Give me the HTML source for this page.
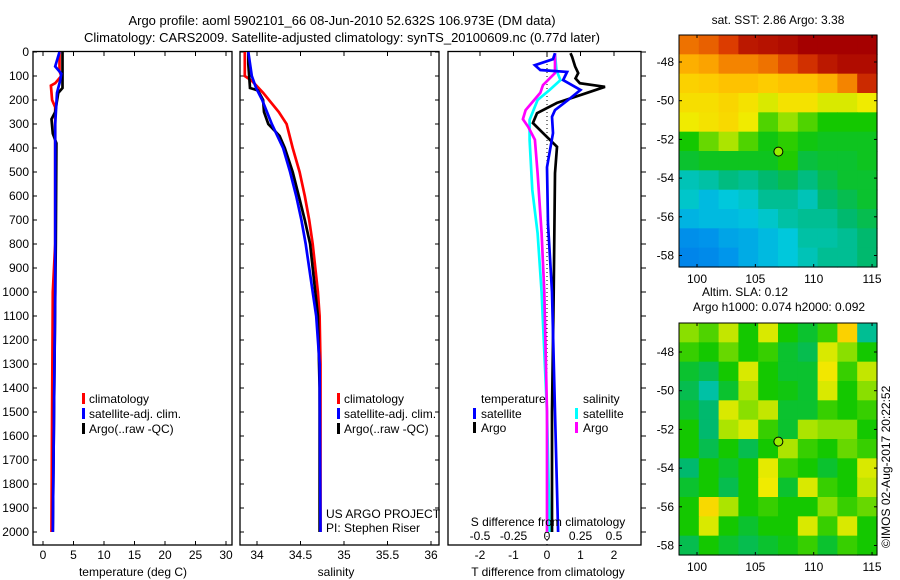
<!DOCTYPE html>
<html><head><meta charset="utf-8">
<style>
html,body{margin:0;padding:0;background:#fff;}
svg{display:block;font-family:"Liberation Sans",sans-serif;}
text{font-size:12px;fill:#000;}
</style></head>
<body>
<svg id="fig" width="900" height="580" viewBox="0 0 900 580">
<rect x="0" y="0" width="900" height="580" fill="#fff"/>
<text x="342" y="25" text-anchor="middle" style="font-size:13px">Argo profile: aoml 5902101_66 08-Jun-2010 52.632S 106.973E (DM data)</text>
<text x="342" y="42" text-anchor="middle" style="font-size:13px">Climatology: CARS2009. Satellite-adjusted climatology: synTS_20100609.nc (0.77d later)</text>
<g id="g1"></g>
<g id="g2"></g>
<g id="g3"></g>
<g id="m1"></g>
<g id="m2"></g>
<text x="0" y="0" transform="translate(890,548) rotate(-90)">©IMOS 02-Aug-2017 20:22:52</text>
</svg>
<script>
// ---------- data ----------
const depthTicks = [0,100,200,300,400,500,600,700,800,900,1000,1100,1200,1300,1400,1500,1600,1700,1800,1900,2000];
const tempTicks = [0,5,10,15,20,25,30];
const salTicks = [34,34.5,35,35.5,36];
const salTickLabels = ["34","34.5","35","35.5","36"];
const tdiffTicks = [-2,-1,0,1,2];
const sdiffTicks = [-0.5,-0.25,0,0.25,0.5];
const sdiffLabels = ["-0.5","-0.25","0","0.25","0.5"];

const tClimD = [0,80,100,130,140,200,230,800,1000,1500,2000];
const tClimV = [2.7,2.7,3.0,2.0,1.3,1.5,2.0,2.0,1.6,1.5,1.4];
const tSatD = [0,60,90,120,170,300,1000,1500,2000];
const tSatV = [2.7,2.0,3.0,2.8,2.3,2.0,2.0,1.8,1.6];
const tArgoD = [0,20,150,170,250,280,340,380,800,1500,2000];
const tArgoV = [3.2,3.2,3.2,2.5,2.0,1.4,1.6,2.2,2.1,1.8,1.6];

const sClimD = [0,100,120,170,250,300,400,500,600,700,800,1000,1100,1300,2000];
const sClimV = [33.86,33.86,33.94,34.07,34.25,34.34,34.41,34.49,34.55,34.6,34.64,34.7,34.72,34.73,34.73];
const sArgoD = [0,50,150,160,200,250,300,350,400,500,600,700,800,1000,1100,1400,2000];
const sArgoV = [33.9,33.9,33.92,34.01,34.07,34.08,34.13,34.26,34.32,34.41,34.48,34.55,34.61,34.67,34.7,34.72,34.72];
const sSatD = [0,100,150,200,300,400,500,600,700,800,1000,1100,1300,2000];
const sSatV = [33.9,33.94,33.99,34.06,34.17,34.3,34.38,34.45,34.51,34.56,34.64,34.68,34.72,34.73];

const dTArgoD = [5,20,60,88,110,130,145,170,212,255,296,338,395,505,1000,1500,2000];
const dTArgoV = [0.7,0.75,0.84,0.93,0.85,0.98,1.73,1.2,0.3,-0.3,-0.42,-0.12,0.3,0.24,0.2,0.15,0.15];
const dTSatD = [5,30,55,75,83,117,158,200,242,270,338,480,715,1000,1500,2000];
const dTSatV = [0.24,0.18,-0.36,-0.2,0.6,0.48,1.0,0.63,0.24,0.15,0.18,0.0,0.03,0.15,0.24,0.33];
const dSArgoD = [5,30,88,138,170,242,280,312,366,505,755,1000,1500,2000];
const dSArgoV = [0.06,0.06,0.06,-0.03,-0.05,-0.16,-0.18,-0.14,-0.09,-0.07,-0.04,-0.02,0.0,0.0];
const dSSatD = [5,75,117,158,200,283,366,575,755,1000,1500,2000];
const dSSatV = [0.06,0.07,0.1,0.02,-0.07,-0.13,-0.13,-0.11,-0.07,-0.04,0.0,0.02];

const lonTicks = [100,105,110,115];
const latTicks = [-48,-50,-52,-54,-56,-58];
const argoLon = 106.973, argoLat = -52.632;
const sstGrid = [
[0.84,0.86,0.90,0.96,0.97,0.98,1.00,1.00,1.00,1.00],
[0.76,0.78,0.82,0.82,0.84,0.88,0.92,0.96,0.98,0.98],
[0.70,0.71,0.73,0.73,0.71,0.73,0.73,0.76,0.82,0.93],
[0.67,0.67,0.69,0.66,0.62,0.66,0.66,0.62,0.62,0.64],
[0.64,0.66,0.68,0.64,0.50,0.56,0.50,0.45,0.45,0.45],
[0.45,0.52,0.58,0.50,0.44,0.47,0.44,0.43,0.43,0.43],
[0.42,0.43,0.43,0.43,0.43,0.46,0.41,0.42,0.42,0.43],
[0.34,0.35,0.37,0.36,0.38,0.40,0.37,0.40,0.42,0.42],
[0.33,0.30,0.32,0.33,0.36,0.36,0.34,0.38,0.40,0.42],
[0.29,0.30,0.30,0.31,0.33,0.35,0.36,0.36,0.38,0.40],
[0.22,0.24,0.27,0.28,0.30,0.32,0.35,0.35,0.36,0.38],
[0.18,0.20,0.25,0.28,0.30,0.32,0.34,0.36,0.36,0.38]];
const slaGrid = [
[0.55,0.50,0.60,0.45,0.62,0.45,0.42,0.48,0.70,0.36],
[0.48,0.45,0.52,0.45,0.48,0.42,0.40,0.62,0.55,0.45],
[0.42,0.40,0.45,0.62,0.45,0.42,0.42,0.65,0.48,0.60],
[0.40,0.35,0.42,0.58,0.45,0.44,0.42,0.62,0.45,0.55],
[0.42,0.38,0.62,0.55,0.60,0.42,0.42,0.48,0.45,0.48],
[0.45,0.38,0.58,0.62,0.48,0.42,0.58,0.55,0.55,0.45],
[0.45,0.40,0.45,0.40,0.45,0.58,0.48,0.45,0.52,0.48],
[0.38,0.45,0.42,0.45,0.63,0.48,0.45,0.42,0.45,0.62],
[0.42,0.45,0.40,0.45,0.64,0.42,0.62,0.48,0.45,0.60],
[0.45,0.68,0.58,0.45,0.48,0.45,0.45,0.55,0.48,0.52],
[0.45,0.62,0.45,0.42,0.45,0.45,0.62,0.48,0.62,0.45],
[0.40,0.45,0.42,0.40,0.42,0.44,0.48,0.42,0.48,0.45]];

// ---------- helpers ----------
const NS = "http://www.w3.org/2000/svg";
function mk(parent, tag, attrs, txt){
  const e = document.createElementNS(NS, tag);
  for (const k in attrs) e.setAttribute(k, attrs[k]);
  if (txt !== undefined) e.textContent = txt;
  parent.appendChild(e);
  return e;
}
const Y0 = 52, YS = 0.24, PB = 545;
function yD(d){ return Y0 + d*YS; }

function frame(g, x0, x1){
  const r = mk(g, "rect", {x:x0, y:Y0-0.5, width:x1-x0, height:PB-Y0+0.5, fill:"none", stroke:"#000", "stroke-width":1.3});
  
  
}
function line(g, ds, vs, fx, color, name){
  const pts = ds.map((d,i)=> fx(vs[i]).toFixed(1)+","+yD(d).toFixed(1)).join(" ");
  const p = mk(g, "polyline", {points:pts, fill:"none", stroke:color, "stroke-width":2.7, "stroke-linejoin":"miter"});
  
  
}
function txt(g, x, y, s, anchor, name, size){
  const t = mk(g, "text", {x:x, y:y, "text-anchor":anchor||"start"}, s);
  if (size) t.setAttribute("style","font-size:"+size+"px");
  
  
  return t;
}
function legBar(g, x, y, color){
  const r = mk(g, "rect", {x:x, y:y-10, width:3, height:11, fill:color});
  
  
}

// ---------- panel 1: temperature ----------
const g1 = document.getElementById("g1");
const xT = t => 43 + 6.1*t;
frame(g1, 33, 232);
depthTicks.forEach(d=>{
  mk(g1,"line",{x1:33,x2:37,y1:yD(d),y2:yD(d),stroke:"#000"});
  txt(g1, 29, yD(d)+4, String(d), "end", "depth-tick-label");
});
tempTicks.forEach(t=>{
  mk(g1,"line",{x1:xT(t),x2:xT(t),y1:Y0,y2:Y0+4,stroke:"#000"});
  mk(g1,"line",{x1:xT(t),x2:xT(t),y1:PB,y2:PB-4,stroke:"#000"});
  txt(g1, xT(t), 559, String(t), "middle", "temperature-tick-label");
});
txt(g1, 133, 576, "temperature (deg C)", "middle", "x-axis-title-temperature");
line(g1, tClimD, tClimV, xT, "#f00", "temperature-climatology-line");
line(g1, tArgoD, tArgoV, xT, "#000", "temperature-argo-line");
line(g1, tSatD, tSatV, xT, "#00f", "temperature-satellite-line");
[["climatology","#f00"],["satellite-adj. clim.","#00f"],["Argo(..raw -QC)","#000"]].forEach((l,i)=>{
  legBar(g1, 82, 403+i*15, l[1]);
  txt(g1, 89, 403+i*15, l[0], "start", "legend-entry");
});

// ---------- panel 2: salinity ----------
const g2 = document.getElementById("g2");
const xS = s => 257 + 87*(s-34);
frame(g2, 240, 439);
depthTicks.forEach(d=>{
  mk(g2,"line",{x1:240,x2:244,y1:yD(d),y2:yD(d),stroke:"#000"});
  mk(g2,"line",{x1:439,x2:435,y1:yD(d),y2:yD(d),stroke:"#000"});
});
salTicks.forEach((s,i)=>{
  mk(g2,"line",{x1:xS(s),x2:xS(s),y1:Y0,y2:Y0+4,stroke:"#000"});
  mk(g2,"line",{x1:xS(s),x2:xS(s),y1:PB,y2:PB-4,stroke:"#000"});
  txt(g2, xS(s), 559, salTickLabels[i], "middle", "salinity-tick-label");
});
txt(g2, 336, 576, "salinity", "middle", "x-axis-title-salinity");
line(g2, sClimD, sClimV, xS, "#f00", "salinity-climatology-line");
line(g2, sArgoD, sArgoV, xS, "#000", "salinity-argo-line");
line(g2, sSatD, sSatV, xS, "#00f", "salinity-satellite-line");
[["climatology","#f00"],["satellite-adj. clim.","#00f"],["Argo(..raw -QC)","#000"]].forEach((l,i)=>{
  legBar(g2, 337, 403+i*15, l[1]);
  txt(g2, 344, 403+i*15, l[0], "start", "legend-entry");
});
txt(g2, 326, 518, "US ARGO PROJECT", "start", "project-label");
txt(g2, 326, 532, "PI: Stephen Riser", "start", "pi-label");

// ---------- panel 3: differences ----------
const g3 = document.getElementById("g3");
const xdT = v => 547 + 33.5*v;
const xdS = v => 547 + 134*v;
frame(g3, 448, 641);
depthTicks.forEach(d=>{
  mk(g3,"line",{x1:641,x2:646,y1:yD(d),y2:yD(d),stroke:"#000"});
});
tdiffTicks.forEach(t=>{
  mk(g3,"line",{x1:xdT(t),x2:xdT(t),y1:Y0,y2:Y0+4,stroke:"#000"});
  txt(g3, xdT(t), 559, String(t), "middle", "t-diff-tick-label");
});
sdiffTicks.forEach((s,i)=>{
  txt(g3, xdS(s), 540, sdiffLabels[i], "middle", "s-diff-tick-label");
});
const zl = mk(g3,"line",{x1:xdT(0),x2:xdT(0),y1:Y0,y2:PB,stroke:"#000","stroke-dasharray":"1,3"});


line(g3, dSSatD, dSSatV, xdS, "#0ff", "s-diff-satellite-line");
line(g3, dSArgoD, dSArgoV, xdS, "#f0f", "s-diff-argo-line");
line(g3, dTArgoD, dTArgoV, xdT, "#000", "t-diff-argo-line");
line(g3, dTSatD, dTSatV, xdT, "#00f", "t-diff-satellite-line");
txt(g3, 481, 403, "temperature", "start", "legend-title-temperature");
txt(g3, 583, 403, "salinity", "start", "legend-title-salinity");
legBar(g3, 473, 418, "#00f"); txt(g3, 481, 418, "satellite", "start", "legend-entry");
legBar(g3, 473, 432, "#000"); txt(g3, 481, 432, "Argo", "start", "legend-entry");
legBar(g3, 575, 418, "#0ff"); txt(g3, 583, 418, "satellite", "start", "legend-entry");
legBar(g3, 575, 432, "#f0f"); txt(g3, 583, 432, "Argo", "start", "legend-entry");
txt(g3, 548, 526, "S difference from climatology", "middle", "s-diff-axis-title");
txt(g3, 548, 576, "T difference from climatology", "middle", "x-axis-title-t-diff");

// ---------- maps ----------
const stops = [[0.0,[0,90,230]],[0.25,[0,150,235]],[0.32,[0,200,220]],[0.38,[0,185,110]],[0.45,[20,200,0]],[0.56,[150,225,0]],[0.64,[240,235,0]],[0.72,[255,200,0]],[0.8,[250,150,0]],[0.9,[220,60,0]],[1.0,[165,0,0]]];
function cmap(v){
  for (let i=1;i<stops.length;i++){
    if (v<=stops[i][0]){
      const a=stops[i-1], b=stops[i], f=(v-a[0])/(b[0]-a[0]);
      return "rgb("+a[1].map((c,k)=>Math.round(c+(b[1][k]-c)*f)).join(",")+")";
    }
  }
  return "rgb(165,0,0)";
}
function drawMap(id, top, latAt48, grid, title1, title2){
  const g = document.getElementById(id);
  const x0=679, x1=877, y0=top, y1=top+232;
  const lonX = lon => 697 + (lon-100)*11.67;
  const latY = lat => latAt48 + (-48-lat)*19.35;
  const rows=grid.length, cols=grid[0].length;
  const cw=(x1-x0)/cols, ch=(y1-y0)/rows;
  grid.forEach((row,r)=>row.forEach((v,c)=>{
    const cell = mk(g,"rect",{x:(x0+c*cw).toFixed(2),y:(y0+r*ch).toFixed(2),width:(cw+0.6).toFixed(2),height:(ch+0.6).toFixed(2),fill:cmap(v)});
    
    
  }));
  const fr = mk(g,"rect",{x:x0,y:y0,width:x1-x0,height:y1-y0,fill:"none",stroke:"#000","stroke-width":1});
  
  
  lonTicks.forEach(l=>{
    mk(g,"line",{x1:lonX(l),x2:lonX(l),y1:y0,y2:y0+3,stroke:"#000"});
    mk(g,"line",{x1:lonX(l),x2:lonX(l),y1:y1,y2:y1-3,stroke:"#000"});
    txt(g, lonX(l), y1+16, String(l), "middle", "longitude-tick-label");
  });
  latTicks.forEach(l=>{
    mk(g,"line",{x1:x0,x2:x0+3,y1:latY(l),y2:latY(l),stroke:"#000"});
    mk(g,"line",{x1:x1,x2:x1-3,y1:latY(l),y2:latY(l),stroke:"#000"});
    txt(g, x0-5, latY(l)+4, String(l), "end", "latitude-tick-label");
  });
  const m = mk(g,"circle",{cx:lonX(argoLon),cy:latY(argoLat),r:4.5,fill:"#9e0",stroke:"#000","stroke-width":1});
  
  
  if (title2){
    txt(g, 745, top-27, title1, "middle", "map-title");
    txt(g, 779, top-12, title2, "middle", "map-subtitle");
  } else {
    txt(g, 778, top-11, title1, "middle", "map-title");
  }
}
drawMap("m1", 35, 62, sstGrid, "sat. SST: 2.86 Argo: 3.38");
drawMap("m2", 323, 352, slaGrid, "Altim. SLA: 0.12", "Argo h1000: 0.074 h2000: 0.092");
</script>
</body></html>
